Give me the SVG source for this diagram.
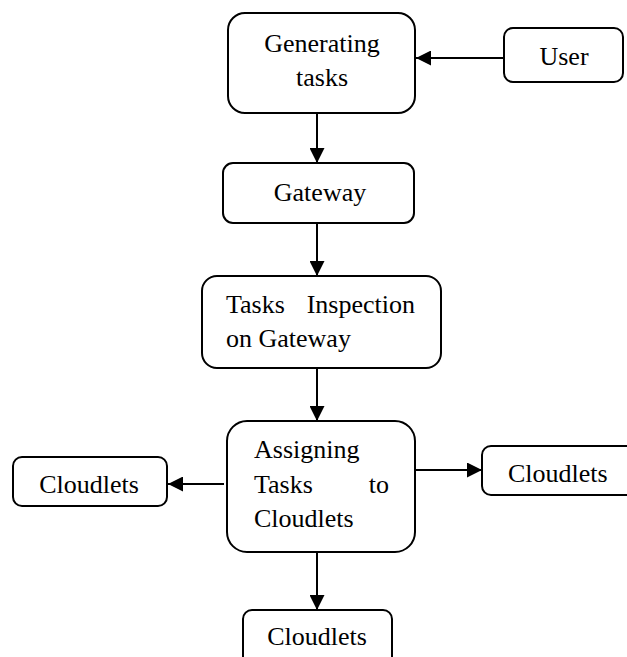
<svg xmlns="http://www.w3.org/2000/svg" width="627" height="657" viewBox="0 0 627 657">
<style>
.box{fill:#fff;stroke:#000;stroke-width:2}
.t{font-family:"Liberation Serif","Times New Roman",serif;font-size:26px;fill:#000}
.c{stroke:#000;stroke-width:2;fill:none;marker-end:url(#ah)}
</style>
<defs>
<marker id="ah" markerUnits="userSpaceOnUse" markerWidth="15" markerHeight="15" refX="15" refY="7.5" orient="auto" viewBox="0 0 15 15">
<path d="M0,0 L15,7.5 L0,15 z" fill="#000"/>
</marker>
</defs>
<rect width="627" height="657" fill="#fff"/>
<g id="connectors">
<line class="c" x1="504" y1="58" x2="416" y2="58"/>
<line class="c" x1="317" y1="113" x2="317" y2="163"/>
<line class="c" x1="317" y1="223" x2="317" y2="276"/>
<line class="c" x1="317" y1="368" x2="317" y2="421"/>
<line class="c" x1="224" y1="484" x2="168" y2="484"/>
<line class="c" x1="415" y1="470" x2="482" y2="470"/>
<line class="c" x1="317" y1="552" x2="317" y2="610"/>
</g>
<g id="generating">
<rect class="box" x="228" y="13" width="187" height="100" rx="17"/>
<text class="t" x="322" y="52" text-anchor="middle">Generating</text>
<text class="t" x="322" y="86" text-anchor="middle">tasks</text>
</g>
<g id="user">
<rect class="box" x="504" y="28" width="119" height="54" rx="9"/>
<text class="t" x="564" y="65" text-anchor="middle">User</text>
</g>
<g id="gateway">
<rect class="box" x="223" y="163" width="191" height="60" rx="10"/>
<text class="t" x="320" y="201" text-anchor="middle">Gateway</text>
</g>
<g id="inspection">
<rect class="box" x="202" y="276" width="239" height="92" rx="15"/>
<text class="t" x="226" y="313">Tasks</text>
<text class="t" x="415" y="313" text-anchor="end">Inspection</text>
<text class="t" x="226" y="347">on Gateway</text>
</g>
<g id="assigning">
<rect class="box" x="227" y="421" width="188" height="131" rx="20"/>
<text class="t" x="254" y="458">Assigning</text>
<text class="t" x="254" y="493">Tasks</text>
<text class="t" x="389" y="493" text-anchor="end">to</text>
<text class="t" x="254" y="527">Cloudlets</text>
</g>
<g id="cloudlets-left">
<rect class="box" x="13" y="457" width="154" height="49" rx="9"/>
<text class="t" x="89" y="493" text-anchor="middle">Cloudlets</text>
</g>
<g id="cloudlets-right">
<rect class="box" x="482" y="446" width="160" height="49" rx="9"/>
<text class="t" x="508" y="482">Cloudlets</text>
</g>
<g id="cloudlets-bottom">
<rect class="box" x="243" y="610" width="149" height="60" rx="9"/>
<text class="t" x="317" y="645" text-anchor="middle">Cloudlets</text>
</g>
</svg>
